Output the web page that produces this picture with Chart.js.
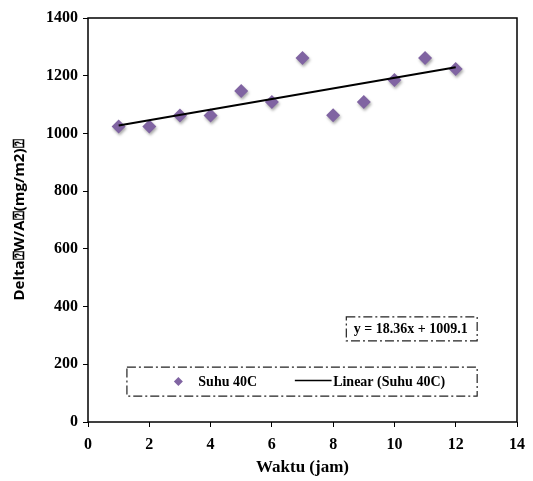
<!DOCTYPE html>
<html>
<head>
<meta charset="utf-8">
<script src="https://cdn.jsdelivr.net/npm/chart.js@4.4.1/dist/chart.umd.min.js"></script>
<style>
  html, body { margin: 0; padding: 0; background: #fff; }
  #wrap { width: 533px; height: 481px; }
</style>
</head>
<body>
<div id="wrap"><canvas id="grafico" width="533" height="481"></canvas></div>
<script>
// Datos
const waktu = [1, 2, 3, 4, 5, 6, 7, 8, 9, 10, 11, 12];
const suhu40 = [1024, 1024, 1062, 1062, 1147, 1109, 1261, 1063, 1109, 1185, 1261, 1223];
const trendX = [1, 12];
const trendY = [1027.5, 1229.4];
const xTicks = [0, 2, 4, 6, 8, 10, 12, 14];
const yTicks = [0, 200, 400, 600, 800, 1000, 1200, 1400];
const ecuacion = "y = 18.36x + 1009.1";
const nombreSerie = "Suhu 40C";
const nombreTrend = "Linear (Suhu 40C)";

const MORADO = "rgb(128,100,162)";
const SERIF = "'Liberation Serif', 'Times New Roman', serif";

// Caja con borde raya-punto
function cajaPunteada(ctx, x1, y1, x2, y2){
    ctx.save();
    ctx.strokeStyle = "#222";
    ctx.lineWidth = 1.2;
    ctx.setLineDash([9, 3, 2, 3]);
    ctx.strokeRect(x1, y1, x2 - x1, y2 - y1);
    ctx.restore();
}

// Marco, ecuacion y leyenda dibujados a mano
const plugExtras = {
    id: 'extras',
    beforeDatasetsDraw(chart){
        const { ctx, chartArea: a } = chart;
        ctx.save();
        ctx.strokeStyle = "#000";
        ctx.lineWidth = 1.5;
        ctx.strokeRect(a.left, a.top, a.right - a.left, a.bottom - a.top);
        ctx.restore();
    },
    afterDatasetsDraw(chart){
        const { ctx, scales } = chart;
        const sx = scales.x, sy = scales.y;

        // caja de la ecuacion
        let ex1 = sx.getPixelForValue(8.43), ex2 = sx.getPixelForValue(12.7);
        let ey1 = sy.getPixelForValue(364), ey2 = sy.getPixelForValue(281);
        cajaPunteada(ctx, ex1, ey1, ex2, ey2);
        ctx.save();
        ctx.font = "bold 14px " + SERIF;
        ctx.fillStyle = "#000";
        ctx.textBaseline = "middle";
        ctx.textAlign = "center";
        ctx.fillText(ecuacion, (ex1 + ex2) / 2 - 1, (ey1 + ey2) / 2);
        ctx.restore();

        // caja de la leyenda
        let lx1 = sx.getPixelForValue(1.27), lx2 = sx.getPixelForValue(12.7);
        let ly1 = sy.getPixelForValue(190), ly2 = sy.getPixelForValue(90);
        cajaPunteada(ctx, lx1, ly1, lx2, ly2);
        let ym = (ly1 + ly2) / 2;
        ctx.save();
        // marcador
        let mx = sx.getPixelForValue(2.95);
        ctx.fillStyle = MORADO;
        ctx.beginPath();
        ctx.moveTo(mx, ym - 4.5);
        ctx.lineTo(mx + 4.5, ym);
        ctx.lineTo(mx, ym + 4.5);
        ctx.lineTo(mx - 4.5, ym);
        ctx.closePath();
        ctx.fill();
        ctx.font = "bold 14px " + SERIF;
        ctx.fillStyle = "#000";
        ctx.textBaseline = "middle";
        ctx.fillText(nombreSerie, sx.getPixelForValue(3.6), ym + 1);
        // linea
        ctx.strokeStyle = "#000";
        ctx.lineWidth = 1.5;
        ctx.beginPath();
        ctx.moveTo(sx.getPixelForValue(6.75), ym - 1);
        ctx.lineTo(sx.getPixelForValue(7.95), ym - 1);
        ctx.stroke();
        ctx.fillText(nombreTrend, sx.getPixelForValue(8.0), ym + 1);
        ctx.restore();
    }
};

// Sombra suave de los marcadores
const plugSombra = {
    id: 'sombra',
    beforeDatasetDraw(chart, args){
        if (args.index !== 0) return;
        const ctx = chart.ctx;
        ctx.save();
        ctx.shadowColor = "rgba(0,0,0,0.35)";
        ctx.shadowBlur = 3;
        ctx.shadowOffsetX = 1;
        ctx.shadowOffsetY = 2;
    },
    afterDatasetDraw(chart, args){
        if (args.index !== 0) return;
        chart.ctx.restore();
    }
};

const ctx = document.getElementById('grafico').getContext('2d');

new Chart(ctx, {
    type: 'scatter',
    data: {
        datasets: [
            {
                label: nombreSerie,
                data: waktu.map((x, i) => ({ x: x, y: suhu40[i] })),
                pointStyle: 'rectRot',
                pointRadius: 7,
                backgroundColor: MORADO,
                borderColor: MORADO,
                borderWidth: 0,
                order: 2
            },
            {
                label: nombreTrend,
                type: 'line',
                data: trendX.map((x, i) => ({ x: x, y: trendY[i] })),
                borderColor: "#000",
                borderWidth: 2,
                pointRadius: 0,
                fill: false,
                order: 1
            }
        ]
    },
    options: {
        responsive: false,
        animation: false,
        layout: { padding: { top: 18, right: 15, left: 0, bottom: 0 } },
        plugins: {
            legend: { display: false },
            tooltip: { enabled: false }
        },
        scales: {
            x: {
                type: 'linear',
                min: 0, max: 14,
                afterBuildTicks: s => { s.ticks = xTicks.map(v => ({ value: v })); },
                afterFit: s => { s.height = 59; },
                grid: { drawOnChartArea: false, drawTicks: true, tickLength: 5, color: "#000" },
                border: { display: false },
                ticks: {
                    color: "#000",
                    font: { family: SERIF, size: 16, weight: 'bold' },
                    padding: 8,
                    maxRotation: 0,
                    callback: v => String(v)
                },
                title: {
                    display: true,
                    text: "Waktu (jam)",
                    color: "#000",
                    font: { family: SERIF, size: 17, weight: 'bold' },
                    padding: { top: 2, bottom: 3 }
                }
            },
            y: {
                type: 'linear',
                min: 0, max: 1400,
                afterBuildTicks: s => { s.ticks = yTicks.map(v => ({ value: v })); },
                afterFit: s => { s.width = 88; },
                grid: { drawOnChartArea: false, drawTicks: true, tickLength: 5, color: "#000" },
                border: { display: false },
                ticks: {
                    color: "#000",
                    font: { family: SERIF, size: 16, weight: 'bold' },
                    padding: 5,
                    callback: v => String(v)
                },
                title: {
                    display: true,
                    text: "Delta\u2370W/A\u2370(mg/m2)\u2370",
                    color: "#000",
                    font: { family: "'Open Sans', 'Noto Sans', sans-serif", size: 15, weight: 'bold' },
                    padding: { top: 11, bottom: 0 }
                }
            }
        }
    },
    plugins: [plugExtras, plugSombra]
});
</script>
</body>
</html>
